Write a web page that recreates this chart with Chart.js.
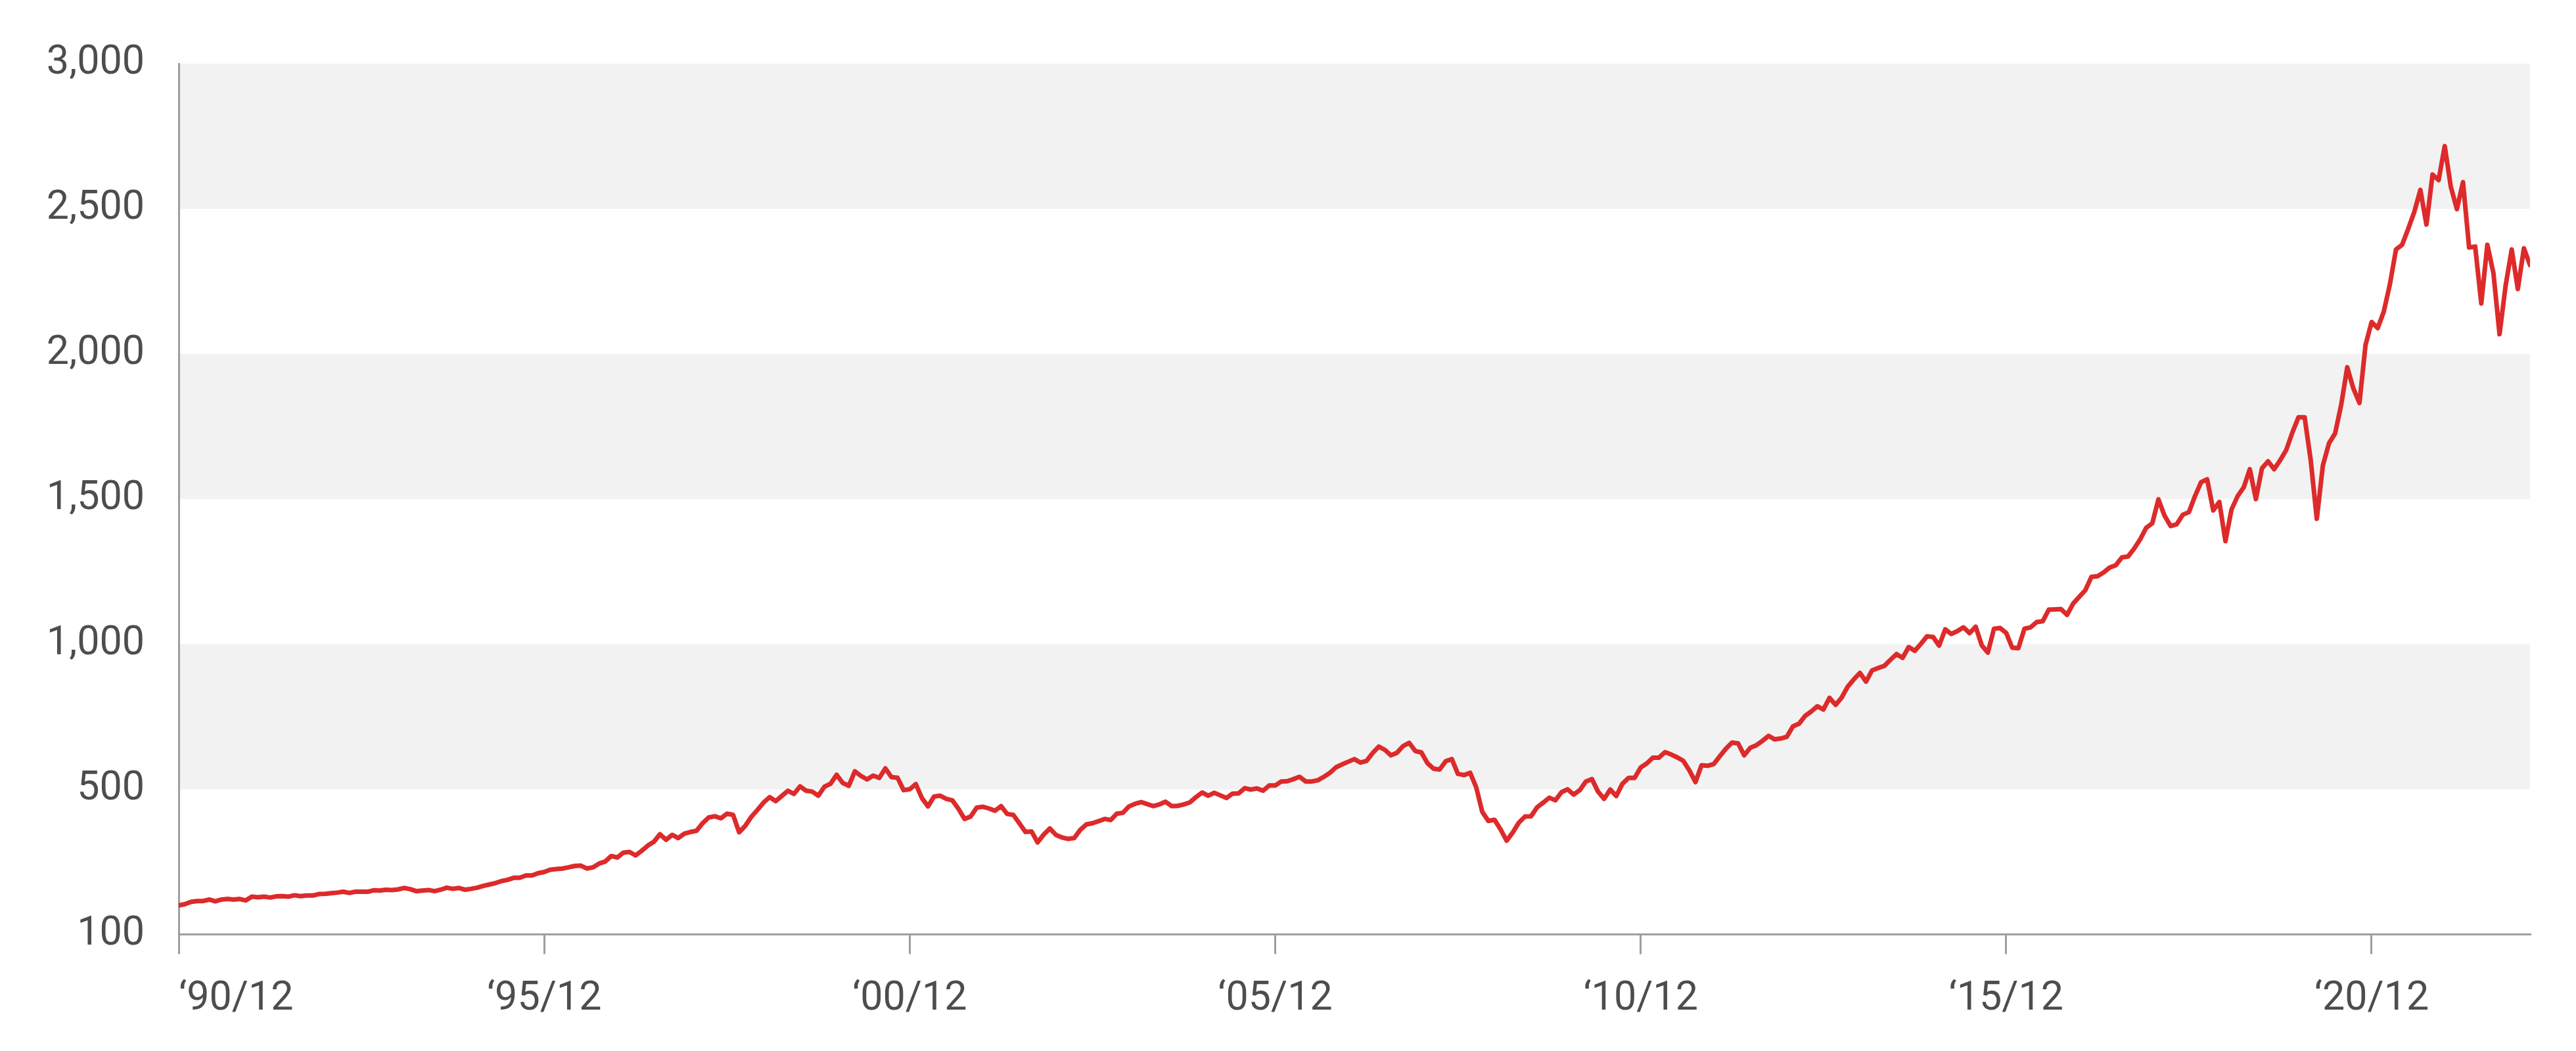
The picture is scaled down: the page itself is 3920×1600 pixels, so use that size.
<!DOCTYPE html>
<html>
<head>
<meta charset="utf-8">
<script src="https://cdn.jsdelivr.net/npm/chart.js@4.4.0/dist/chart.umd.min.js"></script>
<style>
  html, body { margin: 0; padding: 0; background: #ffffff; }
  #wrap { width: 3920px; height: 1600px; position: relative; }
</style>
</head>
<body>
<div id="wrap"><canvas id="c" width="3920" height="1600"></canvas></div>
<script>
// ---- data (monthly index, 1990/12 = 100) ----
const startYear = 1990;
const startMonth = 12;
const values = [
  100,
  104,112,115,115,120,114,120,122,120,122,117,130,          // 1991
  128,130,127,131,132,130,135,132,134,134,139,140,          // 1992
  142,144,147,143,147,147,147,152,151,154,153,155,          // 1993
  160,156,149,151,153,149,154,161,157,160,154,157,          // 1994
  161,167,172,177,184,188,195,195,203,203,211,215,          // 1995
  223,225,227,231,236,237,227,231,244,251,270,265,          // 1996
  282,284,272,288,306,319,345,326,343,332,347,353,          // 1997
  357,383,403,407,400,416,412,352,374,405,429,454,          // 1998
  473,459,477,495,484,510,495,492,478,509,519,550,          // 1999
  522,512,562,546,534,547,539,572,542,540,497,500,          // 2000
  518,470,441,475,478,467,462,433,398,406,437,440,          // 2001
  434,426,442,415,412,383,353,355,317,344,365,343,          // 2002
  334,329,332,360,379,383,390,398,394,416,419,441,          // 2003
  450,456,449,442,448,457,442,443,448,455,473,489,          // 2004
  478,488,479,470,485,486,504,499,503,495,513,513,          // 2005
  527,528,535,543,527,527,531,543,557,576,586,595,          // 2006
  604,592,598,625,647,636,617,626,649,660,632,627,          // 2007
  590,571,568,597,604,553,549,557,507,422,391,395,          // 2008
  362,323,351,385,406,407,438,454,471,462,490,500,          // 2009
  482,497,527,535,492,467,499,477,519,539,539,575,          // 2010
  589,609,609,628,620,610,598,565,525,583,581,587,          // 2011
  614,640,661,658,617,643,652,667,684,672,675,681,          // 2012
  717,726,753,768,786,775,815,791,816,854,879,901,          // 2013
  871,910,918,925,946,966,953,990,977,1001,1027,1025,       // 2014
  995,1051,1035,1045,1058,1038,1060,996,971,1053,1056,1039, // 2015
  988,986,1053,1058,1076,1079,1119,1120,1121,1101,1140,1163,// 2016
  1186,1232,1234,1247,1264,1272,1299,1302,1329,1361,1401,1417, // 2017
  1499,1443,1407,1413,1446,1455,1510,1558,1568,1461,1490,1355, // 2018
  1464,1510,1540,1603,1500,1606,1630,1603,1634,1670,1730,1782, // 2019
  1782,1634,1432,1616,1692,1726,1824,1954,1881,1831,2031,2110, // 2020
  2089,2146,2240,2360,2376,2431,2489,2565,2446,2618,2599,2716, // 2021
  2576,2499,2592,2367,2370,2174,2376,2278,2068,2236,2360,2224, // 2022
  2364,2306                                                    // 2023
];
const tickMonths = [0, 60, 120, 180, 240, 300, 360];
const tickLabels = ['\u201890/12', '\u201895/12', '\u201800/12', '\u201805/12', '\u201810/12', '\u201815/12', '\u201820/12'];
const yTicks = [0, 500, 1000, 1500, 2000, 2500, 3000];
const yTickLabels = ['100', '500', '1,000', '1,500', '2,000', '2,500', '3,000'];
const bandRanges = [[500, 1000], [1500, 2000], [2500, 3000]];

// month labels for each point
const monthLabels = values.map((v, i) => {
  const t = (startYear * 12 + (startMonth - 1)) + i;
  return Math.floor(t / 12) + '/' + String(t % 12 + 1).padStart(2, '0');
});

const FONT = { family: 'Roboto', size: 61 };
const TEXT = '#4d4d4d';
const AXIS = '#9e9e9e';
const lastIndex = values.length - 1;

const bandsPlugin = {
  id: 'bands',
  beforeDraw(chart) {
    const { ctx, chartArea, scales } = chart;
    ctx.save();
    ctx.fillStyle = '#f2f2f2';
    bandRanges.forEach(([lo, hi]) => {
      const yTop = scales.y.getPixelForValue(hi);
      const yBot = scales.y.getPixelForValue(lo);
      ctx.fillRect(chartArea.left, yTop, chartArea.right - chartArea.left, yBot - yTop);
    });
    ctx.restore();
  }
};

new Chart(document.getElementById('c'), {
  type: 'line',
  data: {
    labels: monthLabels,
    datasets: [{
      data: values.map((v, i) => ({ x: i, y: v })),
      borderColor: '#dd2a2b',
      borderWidth: 7,
      pointRadius: 0,
      tension: 0,
      fill: false,
      borderJoinStyle: 'round',
      borderCapStyle: 'round'
    }]
  },
  options: {
    responsive: false,
    animation: false,
    devicePixelRatio: 1,
    layout: { padding: { top: 97, right: 70, bottom: 0, left: 0 } },
    plugins: { legend: { display: false }, tooltip: { enabled: false } },
    scales: {
      x: {
        type: 'linear',
        min: 0,
        max: lastIndex,
        afterBuildTicks: s => { s.ticks = tickMonths.concat([lastIndex]).map(v => ({ value: v })); },
        afterFit: s => { s.height = 177.5; },
        ticks: {
          callback: v => { const k = tickMonths.indexOf(v); return k >= 0 ? tickLabels[k] : ''; },
          font: FONT,
          color: TEXT,
          padding: 33,
          align: 'inner',
          maxRotation: 0,
          autoSkip: false,
          includeBounds: false
        },
        grid: {
          drawOnChartArea: false,
          drawTicks: true,
          tickLength: 30,
          color: c => (c.tick && c.tick.value === lastIndex) ? 'rgba(0,0,0,0)' : AXIS,
          lineWidth: 3
        },
        border: { display: true, color: AXIS, width: 3 }
      },
      y: {
        min: 0,
        max: 3000,
        afterBuildTicks: s => { s.ticks = yTicks.map(v => ({ value: v })); },
        afterFit: s => { s.width = 272; },
        ticks: {
          callback: v => yTickLabels[yTicks.indexOf(v)],
          font: FONT,
          color: TEXT,
          padding: 52
        },
        grid: { display: false, drawTicks: false },
        border: { display: true, color: AXIS, width: 3 }
      }
    }
  },
  plugins: [bandsPlugin]
});
</script>
</body>
</html>
